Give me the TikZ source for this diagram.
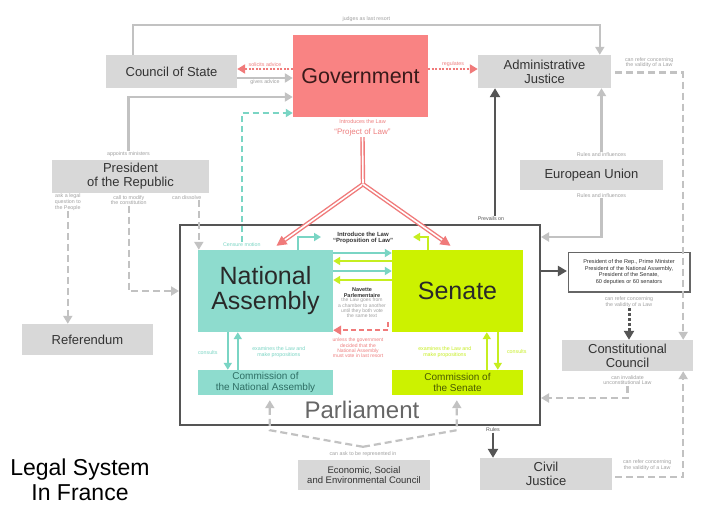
\documentclass[tikz,border=0pt]{standalone}
\usepackage{fontspec}
\setmainfont{Liberation Sans}
\usetikzlibrary{arrows.meta,calc}
\definecolor{boxgray}{HTML}{D8D8D8}
\definecolor{txtdark}{HTML}{333333}
\definecolor{govred}{HTML}{F98383}
\definecolor{govtext}{HTML}{3A1A1A}
\definecolor{tealfill}{HTML}{8EDCCE}
\definecolor{tealline}{HTML}{7AD5C4}
\definecolor{tealtext}{HTML}{2E6E64}
\definecolor{yelfill}{HTML}{CCF200}
\definecolor{yelline}{HTML}{C6EE20}
\definecolor{yeltext}{HTML}{4A5A00}
\definecolor{redline}{HTML}{F07A7A}
\definecolor{redtxt}{HTML}{EE7F7F}
\definecolor{frame}{HTML}{555555}
\definecolor{linegray}{HTML}{C2C2C2}
\definecolor{lblgray}{HTML}{A0A0A0}
\tikzset{
  gbox/.style={fill=boxgray, text=txtdark, inner sep=0pt, align=center, font=\fontsize{13}{14}\selectfont},
  lbl/.style={text=lblgray, font=\fontsize{5.3}{5.6}\selectfont, align=center, inner sep=0.5pt},
  gline/.style={draw=linegray, line width=2.2pt, -{Triangle[length=8pt,width=9pt]}},
  gdash/.style={gline, dash pattern=on 7pt off 4pt},
  darrow/.style={draw=frame, line width=2.4pt, -{Triangle[length=9pt,width=10pt]}},
  ddash/.style={darrow, line width=3pt, dash pattern=on 3pt off 2pt},
  rdot/.style={draw=redline, line width=2pt, dash pattern=on 2pt off 1.5pt, -{Triangle[length=8pt,width=9pt]}},
  rdash/.style={draw=redline, line width=2.2pt, dash pattern=on 5pt off 3pt, -{Triangle[length=8pt,width=9pt]}},
  rdouble/.style={draw=redline, line width=1.4pt, double=white, double distance=1.6pt},
  rarrow/.style={draw=redline, line width=1.5pt, -{Triangle[length=10pt,width=10pt]}},
  tarrow/.style={draw=tealline, line width=2pt, -{Triangle[length=7pt,width=8pt]}},
  tdash/.style={tarrow, line width=2.2pt, dash pattern=on 6pt off 4pt},
  yarrow/.style={draw=yelline, line width=2pt, -{Triangle[length=7pt,width=8pt]}},
}
\begin{document}
\begin{tikzpicture}[x=1pt,y=-1pt]
\useasboundingbox (0,0) rectangle (720,509);
\fill[white] (0,0) rectangle (720,509);

% ---- boxes
\node[fill=govred, text=govtext, inner sep=0pt, minimum width=135pt, minimum height=82pt,
      font=\fontsize{21.5}{23}\selectfont] (gov) at (360.5,76) {Government};
\node[gbox, minimum width=131pt, minimum height=33pt] (cos) at (171.5,71.5) {Council of State};
\node[gbox, minimum width=133pt, minimum height=33pt] (adj) at (544.5,71.5) {Administrative\\Justice};
\node[gbox, minimum width=157pt, minimum height=33pt] (pres) at (130.5,176.5) {President\\of the Republic};
\node[gbox, minimum width=131pt, minimum height=31pt] (ref) at (87.5,339.5) {Referendum};
\node[gbox, minimum width=143pt, minimum height=30pt] (eu) at (591.5,175) {European Union};
\node[gbox, minimum width=131pt, minimum height=31pt] (cc) at (627.5,355.5) {Constitutional\\Council};
\node[gbox, minimum width=132pt, minimum height=32pt] (cj) at (546,474) {Civil\\Justice};
\node[gbox, minimum width=132pt, minimum height=30pt, font=\fontsize{9.5}{10.5}\selectfont] (esec) at (364,475) {Economic, Social\\and Environmental Council};

\node[draw=frame, line width=2pt, minimum width=360pt, minimum height=200pt, inner sep=0pt] (parl) at (360,325) {};
\node[text=frame!90, font=\fontsize{24}{26}\selectfont] (parltxt) at (362,410) {Parliament};

\node[fill=tealfill, text=txtdark!80!black, inner sep=0pt, align=center, minimum width=135pt, minimum height=82pt,
      font=\fontsize{25}{25}\selectfont] (na) at (265.5,291) {National\\Assembly};
\node[fill=yelfill, text=txtdark!80!black, inner sep=0pt, minimum width=131pt, minimum height=82pt,
      font=\fontsize{25}{25}\selectfont] (sen) at (457.5,291) {Senate};
\node[fill=tealfill, text=tealtext, inner sep=0pt, align=center, minimum width=135pt, minimum height=25pt,
      font=\fontsize{10}{10.5}\selectfont] (cna) at (265.5,382.5) {Commission of\\the National Assembly};
\node[fill=yelfill, text=yeltext, inner sep=0pt, align=center, minimum width=131pt, minimum height=25pt,
      font=\fontsize{10}{10.5}\selectfont] (csen) at (457.5,382.5) {Commission of\\the Senate};

\node[draw=frame!90, line width=2.2pt, fill=white, inner sep=0pt, align=center,
      minimum width=122pt, minimum height=40pt, text=txtdark, font=\fontsize{5.6}{6.8}\selectfont] (rb) at (629,272)
      {President of the Rep., Prime Minister\\President of the National Assembly,\\President of the Senate,\\60 deputies or 60 senators};
\draw[white, line width=0.6pt] (rb.north west) rectangle (rb.south east);

\node[text=black, align=center, font=\fontsize{23}{25}\selectfont] (title) at (80,480) {Legal System\\In France};

% ---- top: judges as last resort
\coordinate (t1) at ($(cos.north west)+(27,0)$);
\coordinate (t2) at ($(adj.north west)+(122,0)$);
\draw[gline] (t1) -- ++(0,-30) coordinate (t1u) -| (t2);
\node[lbl] (jlr) at ($(t1u)!0.5!(t1u -| t2)+(0,-6)$) {judges as last resort};

% ---- government <-> council of state
\coordinate (g1) at ($(gov.west)+(0,-7)$);
\draw[rdot] (g1) -- (g1 -| cos.east) node[midway, above=1pt, lbl, text=redtxt] {solicits advice};
\coordinate (c1) at ($(cos.east)+(0,6.5)$);
\draw[gline] (c1) -- (c1 -| gov.west) node[midway, below=0.5pt, lbl] {gives advice};

% ---- government -> administrative justice
\coordinate (g2) at ($(gov.east)+(0,-7)$);
\draw[rdot] (g2) -- (g2 -| adj.west) node[midway, above=1pt, lbl, text=redtxt] {regulates};

% ---- president appoints ministers
\node[lbl] (appt) at ($(pres.north)+(-2,-6)$) {appoints ministers};
\coordinate (g3) at ($(gov.west)+(0,21)$);
\draw[gline] (appt.north) |- (g3);

% ---- censure motion
\node[lbl, text=tealline] (cens) at ($(na.north west)+(44,-5)$) {Censure motion};
\coordinate (g4) at ($(gov.west)+(0,37)$);
\draw[tdash] (cens.north) |- (g4);

% ---- project of law
\node[text=redtxt, align=center, inner sep=0.5pt] (proj) at ($(gov.south)+(2,11)$)
  {{\fontsize{5.5}{6}\selectfont Introduces the Law}\\[-1pt]{\fontsize{8}{9}\selectfont ``Project of Law''}};
\coordinate (j) at ($(gov.south)+(2.5,67)$);
\draw[rdouble] (proj.south) -- (j);
\coordinate (tl) at ($(na.north)+(11,-4)$);
\coordinate (tr) at ($(sen.north)+(-7,-4)$);
\draw[rdouble, shorten >=8pt] (j) -- (tl);
\draw[rdouble, shorten >=8pt] (j) -- (tr);
\draw[rarrow] ($(tl)!10pt!(j)$) -- (tl);
\draw[rarrow] ($(tr)!10pt!(j)$) -- (tr);

% ---- president's labels and arrows
\node[lbl] (askq) at ($(pres.south west)+(16,9)$) {ask a legal\\question to\\the People};
\node[lbl] (callm) at ($(pres.south west)+(77,7)$) {call to modify\\the constitution};
\node[lbl] (diss) at ($(pres.south west)+(135,4)$) {can dissolve};
\draw[gdash] (askq.south) -- (askq.south |- ref.north);
\coordinate (pw) at ($(parl.west)+(0,-34)$);
\draw[gdash] (callm.south) |- (pw);
\coordinate (d1) at ($(diss.south)+(12,0)$);
\draw[gdash] (d1) -- (d1 |- na.north);

% ---- introduce the law (proposition)
\node[text=txtdark, align=center, inner sep=0.5pt, font=\fontsize{6}{6.8}\selectfont\bfseries] (intro) at (363,238)
  {Introduce the Law\\``Proposition of Law''};
\coordinate (it1) at ($(intro.center)+(-42,-1)$);
\coordinate (it2) at ($(intro.center)+(50,-1)$);
\draw[tarrow] ($(na.north west)+(100,0)$) |- (it1);
\draw[yarrow] ($(sen.north west)+(36,0)$) |- (it2);

% ---- navette arrows
\draw[tarrow] ($(na.east)+(0,-38)$) -- ($(sen.west)+(0,-38)$);
\draw[yarrow] ($(sen.west)+(0,-30)$) -- ($(na.east)+(0,-30)$);
\draw[tarrow] ($(na.east)+(0,-20)$) -- ($(sen.west)+(0,-20)$);
\draw[yarrow] ($(sen.west)+(0,-11)$) -- ($(na.east)+(0,-11)$);
\node[text=txtdark, align=center, inner sep=0.5pt, font=\fontsize{5.5}{6}\selectfont\bfseries] (nav) at (362,293) {Navette\\Parlementaire};
\node[lbl, font=\fontsize{5}{4.6}\selectfont] (navt) at (362,308) {the Law goes from\\a chamber to another\\until they both vote\\the same text};
\coordinate (r1) at ($(sen.south west)+(-4,-10)$);
\coordinate (r2) at ($(na.south east)+(0,-2)$);
\draw[rdash] (r1) |- (r2);
\node[lbl, text=redtxt, font=\fontsize{5}{4.6}\selectfont] (unl) at (358,348) {unless the government\\decided that the\\National Assembly\\must vote in last resort};

% ---- commissions
\draw[tarrow] ($(na.south west)+(30,0)$) -- ($(cna.north west)+(30,0)$);
\draw[tarrow] ($(cna.north west)+(40,0)$) -- ($(na.south west)+(40,0)$);
\node[lbl, text=tealline] (cns1) at ($(na.south west)+(10,20)$) {consults};
\node[lbl, text=tealline] (exa1) at ($(na.south west)+(81,20)$) {examines the Law and\\make propositions};
\draw[yarrow] ($(csen.north west)+(95,0)$) -- ($(sen.south west)+(95,0)$);
\draw[yarrow] ($(sen.south west)+(106,0)$) -- ($(csen.north west)+(106,0)$);
\node[lbl, text=yelline] (exa2) at ($(sen.south west)+(53,20)$) {examines the Law and\\make propositions};
\node[lbl, text=yelline] (cns2) at ($(sen.south west)+(125,19)$) {consults};

% ---- ESEC
\node[lbl] (ask) at ($(esec.north)+(-1,-6)$) {can ask to be represented in};
\coordinate (e0) at ($(esec.north)+(-1,-13)$);
\draw[gdash] (e0) -- ($(cna.south west)+(72,35)$) -- ($(cna.south west)+(72,5)$);
\draw[gdash] (e0) -- ($(csen.south west)+(65,35)$) -- ($(csen.south west)+(65,5)$);

% ---- prevails on
\node[lbl, text=frame] (prev) at ($(parl.north west)+(312,-5)$) {Prevails on};
\coordinate (pv) at ($(prev.north)+(4,0)$);
\draw[darrow] (pv) -- (pv |- adj.south);

% ---- european union
\node[lbl] (eut) at ($(eu.north)+(10,-5)$) {Rules and influences};
\draw[gline] (eut.north) -- (eut.north |- adj.south);
\node[lbl] (eub) at ($(eu.south)+(10,5)$) {Rules and influences};
\coordinate (pe) at ($(parl.east)+(0,-88)$);
\draw[gline] (eub.south) |- (pe);

% ---- parliament -> referral box -> constitutional council
\coordinate (pr) at ($(parl.east)+(0,-54)$);
\draw[darrow] (pr) -- (pr -| rb.west);
\node[lbl] (rbl) at ($(rb.south)+(0,9)$) {can refer concerning\\the validity of a Law};
\draw[ddash] (rbl.south) -- (rbl.south |- cc.north);

% ---- administrative justice -> CC
\node[lbl] (adjl) at ($(adj.east)+(38,-9)$) {can refer concerning\\the validity of a Law};
\coordinate (ad1) at ($(adj.east)+(4,1)$);
\coordinate (ad2) at ($(cc.north east)+(-10,0)$);
\draw[gdash] (ad1) -| (ad2);

% ---- CC invalidates
\node[lbl] (ccl) at ($(cc.south)+(0,9)$) {can invalidate\\unconstitutional Law};
\coordinate (pc) at ($(parl.east)+(0,73)$);
\draw[gdash] (ccl.south) |- (pc);

% ---- rules civil justice
\node[lbl, text=frame] (rules) at ($(parl.south west)+(314,4)$) {Rules};
\draw[darrow] (rules.south) -- (rules.south |- cj.north);

% ---- civil justice -> CC
\node[lbl] (cjl) at ($(cj.east)+(35,-9)$) {can refer concerning\\the validity of a Law};
\coordinate (cj1) at ($(cj.east)+(3,3)$);
\coordinate (cj2) at ($(cc.south east)+(-10,0)$);
\draw[gdash] (cj1) -| (cj2);
\end{tikzpicture}
\end{document}
